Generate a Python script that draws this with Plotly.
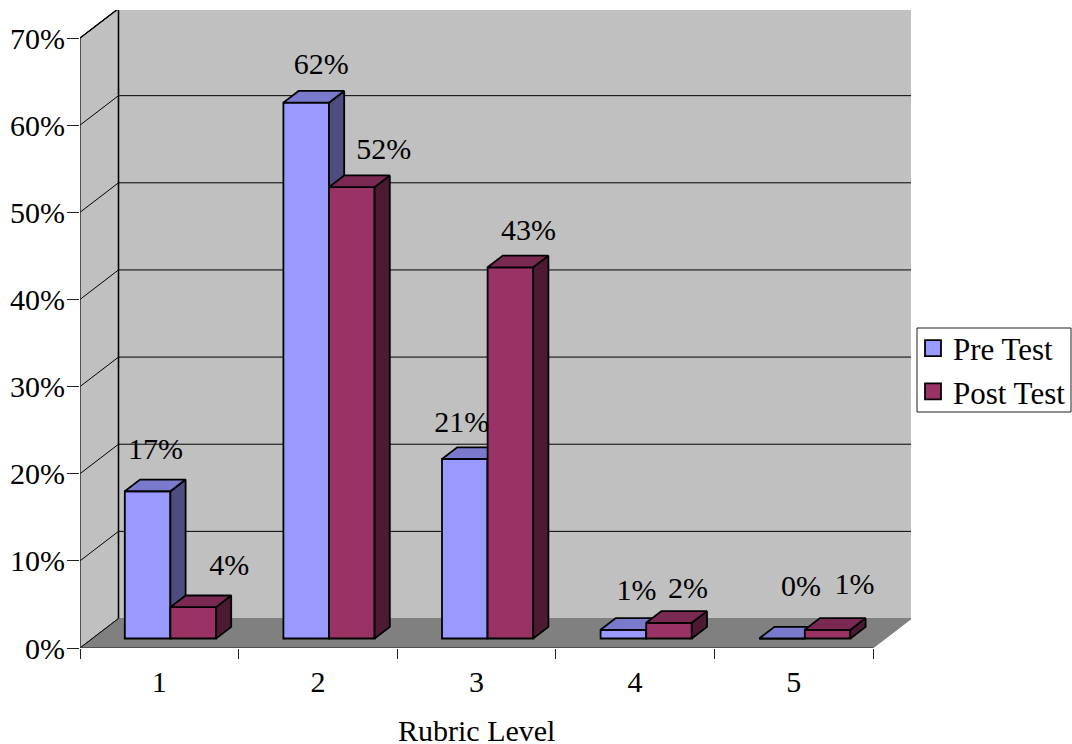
import plotly.graph_objects as go

# ---- data ----
categories = [1, 2, 3, 4, 5]
pre_test = [16.9, 61.5, 20.6, 1.0, 0.0]
post_test = [3.6, 51.8, 42.6, 1.8, 1.0]
y_ticks = [0, 10, 20, 30, 40, 50, 60, 70]
series_names = ["Pre Test", "Post Test"]
x_title = "Rubric Level"

# label placement relative to the front-top of each bar, in pixels
pre_label_dx = [8, 15, -3, 13, 19]
pre_label_dy = [40, 36, 34, 37, 50]
post_label_dx = [36, 32, 18, 19, 27]
post_label_dy = [40, 36, 35, 32, 43]

# ---- geometry ----
W, H = 1072, 744
L, R, T, B = 80, 911, 10, 648
UX = 158.6          # pixels per category
UY = 8.714          # pixels per percent
DEPTH_X, DEPTH_Y = 38.5, 29.5
BAR_FRONT = 0.322   # share of depth at the front of the bars
BAR_DEPTH = 0.395   # share of depth taken by the bars
BAR_W = 0.2875      # category share for a bar
BAR_NUDGE = -1.3    # horizontal nudge of the bar groups, pixels

x_range = [0.5, 0.5 + (R - L) / UX]
y_range = [0, (B - T) / UY]
n = len(categories)
x_lo, x_hi = 0.5, n + 0.5
y_top = y_ticks[-1]
wall_dx, wall_dy = DEPTH_X / UX, DEPTH_Y / UY
front_dx, front_dy = wall_dx * BAR_FRONT + BAR_NUDGE / UX, wall_dy * BAR_FRONT
bar_dx, bar_dy = wall_dx * BAR_DEPTH, wall_dy * BAR_DEPTH

BLACK = "#000000"
GREY = "#808080"
WALL = "#C0C0C0"
FONT = dict(family="Liberation Serif", size=30, color=BLACK)
LEGEND_FONT = dict(family="Liberation Serif", size=31, color=BLACK)
fig = go.Figure()


def poly(xs, ys, fill, line=BLACK, lw=1, xa="x", ya="y"):
    fig.add_trace(go.Scatter(x=xs, y=ys, mode="lines", fill="toself", fillcolor=fill,
                             line=dict(color=line, width=lw), xaxis=xa, yaxis=ya,
                             hoverinfo="skip", showlegend=False))


def lines(xs, ys, color=BLACK, lw=1, xa="x", ya="y"):
    fig.add_trace(go.Scatter(x=xs, y=ys, mode="lines", line=dict(color=color, width=lw),
                             xaxis=xa, yaxis=ya, hoverinfo="skip", showlegend=False))


# walls and floor
poly([x_lo, x_lo + wall_dx, x_lo + wall_dx, x_lo, x_lo],
     [0, wall_dy, y_top + wall_dy, y_top, 0], WALL)
poly([x_lo + wall_dx, x_hi + wall_dx, x_hi + wall_dx, x_lo + wall_dx, x_lo + wall_dx],
     [wall_dy, wall_dy, y_top + wall_dy, y_top + wall_dy, wall_dy], WALL, line=GREY)
poly([x_lo, x_hi, x_hi + wall_dx, x_lo + wall_dx, x_lo],
     [0, 0, wall_dy, wall_dy, 0], GREY, line=GREY)

# gridlines on left and back walls
gx, gy = [], []
for t in y_ticks[1:]:
    gx += [x_lo, x_lo + wall_dx, x_hi + wall_dx, None]
    gy += [t, t + wall_dy, t + wall_dy, None]
lines(gx, gy)
lines([x_lo, x_lo + wall_dx, x_hi + wall_dx],
      [y_top, y_top + wall_dy, y_top + wall_dy], lw=1.4)
lines([x_lo + wall_dx, x_lo + wall_dx], [wall_dy, y_top + wall_dy], lw=1.6)
lines([x_lo, x_lo + wall_dx], [0, wall_dy], lw=1)
# axis lines
lines([x_lo, x_lo], [0, y_top], color="#404040", lw=1)
lines([x_lo, x_hi], [0, 0], color="#202020", lw=1)


def series(values, name, front, top, side, left, xa, ya):
    xs = [c + front_dx for c in categories]
    fig.add_trace(go.Bar(x=xs, y=values, base=[front_dy] * n, width=BAR_W, offset=left * BAR_W,
                         marker=dict(color=front, line=dict(color=BLACK, width=1.8)),
                         name=name, showlegend=False, xaxis=xa, yaxis=ya))
    tx, ty, sx, sy = [], [], [], []
    for x, v in zip(xs, values):
        x0 = x + left * BAR_W
        x1 = x0 + BAR_W
        b = front_dy
        tx += [x0, x1, x1 + bar_dx, x0 + bar_dx, x0, None]
        ty += [b + v, b + v, b + v + bar_dy, b + v + bar_dy, b + v, None]
        sx += [x1, x1 + bar_dx, x1 + bar_dx, x1, x1, None]
        sy += [b, b + bar_dy, b + v + bar_dy, b + v, b, None]
    poly(sx, sy, side, lw=1.8, xa=xa, ya=ya)
    poly(tx, ty, top, lw=1.8, xa=xa, ya=ya)
    fig.add_trace(go.Scatter(x=[None], y=[None], mode="markers", name=name, xaxis=xa, yaxis=ya,
                             marker=dict(symbol="square", size=16, color=front,
                                         line=dict(color=BLACK, width=1.8))))


series(pre_test, series_names[0], "#9999FF", "#7A7ACC", "#4D4D80", -1, "x2", "y2")
series(post_test, series_names[1], "#993366", "#7A2952", "#4D1A33", 0, "x3", "y3")


def labels(values, left, dx, dy):
    xs, ys, txt = [], [], []
    for c, v, a, b in zip(categories, values, dx, dy):
        xs.append(c + front_dx + (left + 0.5) * BAR_W + a / UX)
        ys.append(front_dy + v + b / UY)
        txt.append(f"{round(v)}%")
    fig.add_trace(go.Scatter(x=xs, y=ys, mode="text", text=txt, textposition="middle center",
                             textfont=FONT, xaxis="x3", yaxis="y3", hoverinfo="skip",
                             showlegend=False, cliponaxis=False))


labels(pre_test, -1, pre_label_dx, pre_label_dy)
labels(post_test, 0, post_label_dx, post_label_dy)

hidden = dict(visible=False, showgrid=False, zeroline=False)
fig.update_layout(
    width=W, height=H, autosize=False,
    margin=dict(l=L, r=W - R, t=T, b=H - B, pad=0, autoexpand=False),
    paper_bgcolor="white", plot_bgcolor="white",
    barmode="overlay", showlegend=True,
    font=FONT,
    xaxis=dict(range=x_range, showgrid=False, zeroline=False, showline=False,
               tickmode="array", tickvals=categories, ticktext=[str(c) for c in categories],
               ticks="", ticklabelstandoff=13,
               minor=dict(tickmode="array", tickvals=[c - 0.5 for c in categories] + [x_hi],
                          ticks="outside", ticklen=10, tickcolor="#202020", tickwidth=1),
               tickfont=FONT),
    yaxis=dict(range=y_range, showgrid=False, zeroline=False, showline=False,
               tickmode="array", tickvals=y_ticks, ticktext=[f"{t}%" for t in y_ticks],
               ticks="outside", ticklen=12, tickcolor="#202020", tickwidth=1,
               ticklabelstandoff=-4, tickfont=FONT),
    xaxis2=dict(range=x_range, overlaying="x", anchor="y2", **hidden),
    yaxis2=dict(range=y_range, overlaying="y", anchor="x2", **hidden),
    xaxis3=dict(range=x_range, overlaying="x", anchor="y3", **hidden),
    yaxis3=dict(range=y_range, overlaying="y", anchor="x3", **hidden),
    legend=dict(xref="container", yref="container", x=913 / W, xanchor="left",
                y=1 - 321.5 / H, yanchor="top",
                bgcolor="rgba(0,0,0,0)", borderwidth=0, font=LEGEND_FONT,
                itemsizing="trace", tracegroupgap=0),
    shapes=[dict(type="rect", xref="paper", yref="paper",
                 x0=(917 - L) / (R - L), x1=(1071 - L) / (R - L),
                 y0=(B - 412) / (B - T), y1=(B - 328) / (B - T),
                 fillcolor="white", line=dict(color="#202020", width=1), layer="above")],
    annotations=[dict(text=x_title, xref="x", yref="paper", x=3, y=(B - 730) / (B - T),
                      xanchor="center", yanchor="middle", showarrow=False, font=FONT)],
)

fig.write_html("out.html", config=dict(displayModeBar=False),
               post_script="document.body.style.margin='0';document.body.style.overflow='hidden';")
